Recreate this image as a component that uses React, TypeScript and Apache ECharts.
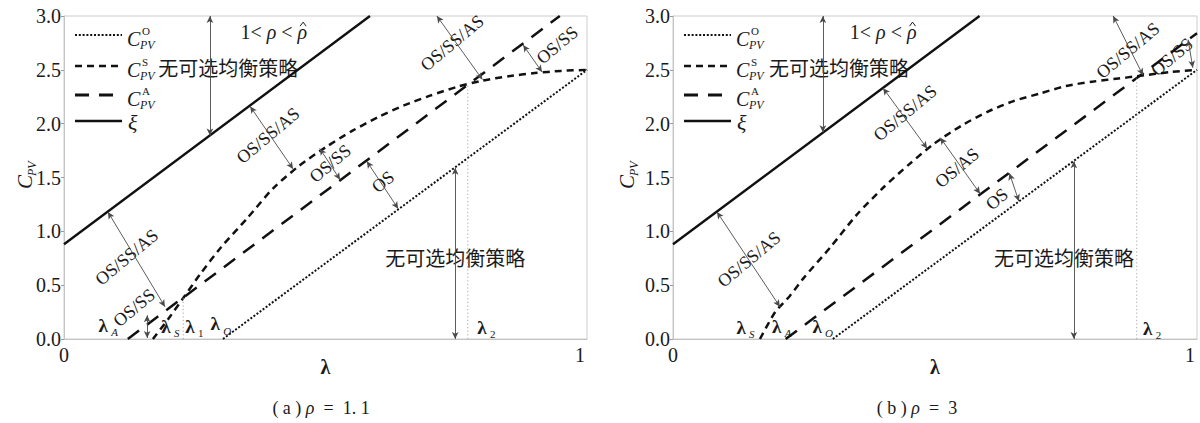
import React, { useEffect, useRef } from "react";
import * as echarts from "echarts";

type Pt = [number, number];

// ---------- panel (a): rho = 1.1 ----------
const xiLambda = [0, 0.585];
const xiValue = [0.88, 3.0];

const coLambdaA = [0.304, 1.0];
const coValueA = [0, 2.5];

const caLambdaA = [0.122, 0.948];
const caValueA = [0, 3.0];

const csLambdaA = [0.17, 0.2, 0.228, 0.26, 0.3, 0.35, 0.4, 0.45, 0.5, 0.55, 0.6, 0.65, 0.7, 0.75, 0.8, 0.85, 0.9, 0.95, 1.0];
const csValueA = [0, 0.19, 0.38, 0.6, 0.85, 1.12, 1.4, 1.61, 1.78, 1.93, 2.06, 2.17, 2.26, 2.34, 2.4, 2.44, 2.47, 2.49, 2.5];

// thresholds where the dotted guides drop to the axis (on the C^A line)
const guidesA = [0.228, 0.772];

// ---------- panel (b): rho = 3 ----------
const coLambdaB = [0.305, 1.0];
const coValueB = [0, 2.5];

const caLambdaB = [0.215, 1.0];
const caValueB = [0, 2.84];

const csLambdaB = [0.166, 0.195, 0.223, 0.25, 0.3, 0.35, 0.4, 0.45, 0.5, 0.55, 0.6, 0.65, 0.7, 0.75, 0.8, 0.85, 0.885, 0.95, 1.0];
const csValueB = [0, 0.25, 0.4, 0.57, 0.85, 1.15, 1.4, 1.62, 1.82, 1.98, 2.11, 2.21, 2.28, 2.35, 2.39, 2.42, 2.44, 2.48, 2.5];

const guidesB = [0.885];

// ---------- axis ticks ----------
const xTicks = [0, 1];
const yTickStep = 0.5;
const yMax = 3;
const xAxisTitle = "λ";

// ---------- annotations (data coordinates) ----------
const arrowsA: [Pt, Pt][] = [
  [[0.279, 3.0], [0.279, 1.89]],
  [[0.356, 2.16], [0.438, 1.58]],
  [[0.489, 1.77], [0.528, 1.48]],
  [[0.579, 1.65], [0.639, 1.21]],
  [[0.748, 1.59], [0.748, 0.0]],
  [[0.713, 3.0], [0.8, 2.41]],
  [[0.878, 2.73], [0.914, 2.48]],
  [[0.084, 1.18], [0.193, 0.3]],
  [[0.159, 0.22], [0.159, 0.01]],
];
const arrowsB: [Pt, Pt][] = [
  [[0.286, 3.0], [0.286, 1.92]],
  [[0.084, 1.18], [0.204, 0.3]],
  [[0.401, 2.33], [0.485, 1.77]],
  [[0.51, 1.87], [0.586, 1.35]],
  [[0.642, 1.54], [0.66, 1.28]],
  [[0.765, 1.65], [0.765, 0.0]],
  [[0.84, 3.0], [0.897, 2.45]],
  [[0.983, 2.78], [0.992, 2.52]],
];

const regionLabelsA: [string, number, number][] = [
  ["OS/SS/AS", 0.12, 0.76],
  ["OS/SS", 0.134, 0.29],
  ["OS/SS/AS", 0.39, 1.89],
  ["OS/SS", 0.509, 1.63],
  ["OS", 0.61, 1.46],
  ["OS/SS/AS", 0.742, 2.75],
  ["OS/SS", 0.943, 2.73],
];
const regionLabelsB: [string, number, number][] = [
  ["OS/SS/AS", 0.145, 0.74],
  ["OS/SS/AS", 0.443, 2.1],
  ["OS/AS", 0.542, 1.59],
  ["OS", 0.618, 1.3],
  ["OS/SS/AS", 0.868, 2.68],
  ["OS/SS", 0.952, 2.62],
];

const lambdaTagsA: [string, number, number, boolean][] = [
  ["A", 0.075, 0.13, true],
  ["S", 0.195, 0.12, true],
  ["1", 0.241, 0.12, false],
  ["O", 0.289, 0.14, true],
  ["2", 0.799, 0.11, false],
];
const lambdaTagsB: [string, number, number, boolean][] = [
  ["S", 0.13, 0.11, true],
  ["A", 0.198, 0.12, true],
  ["O", 0.275, 0.12, true],
  ["2", 0.906, 0.1, false],
];

const noEqText = "无可选均衡策略";
const noEqUpper: Pt[] = [[0.314, 2.52], [0.317, 2.52]];
const noEqLower: Pt[] = [[0.748, 0.76], [0.746, 0.76]];
const rhoRange: Pt = [0.419, 2.85];
const captions = [
  { tag: "a", rho: "1. 1" },
  { tag: "b", rho: "3" },
];

// ---------- styling ----------
const SERIF = "Liberation Serif";
const CJK = "Noto Sans CJK SC";
const INK = "#111";
const TXT = "#1a1a1a";
const ARROW = "#4a4a4a";
const DASH_O = [2, 1.8];
const DASH_S = [7, 5];
const DASH_A = [14, 10];

const GRIDS = [
  { left: 64, top: 16, width: 523, height: 323 },
  { left: 673, top: 16, width: 524, height: 323 },
];

const pairs = (xs: number[], ys: number[]): Pt[] => xs.map((x, i) => [x, ys[i]]);

function interp(xs: number[], ys: number[], x: number): number {
  for (let i = 0; i < xs.length - 1; i++) {
    if (x >= xs[i] && x <= xs[i + 1]) {
      const t = (x - xs[i]) / (xs[i + 1] - xs[i]);
      return ys[i] + t * (ys[i + 1] - ys[i]);
    }
  }
  return ys[ys.length - 1];
}

const panels = [
  {
    co: pairs(coLambdaA, coValueA),
    ca: pairs(caLambdaA, caValueA),
    cs: pairs(csLambdaA, csValueA),
    guides: guidesA.map((l) => [[l, 0], [l, interp(caLambdaA, caValueA, l)]] as Pt[]),
    arrows: arrowsA,
  },
  {
    co: pairs(coLambdaB, coValueB),
    ca: pairs(caLambdaB, caValueB),
    cs: pairs(csLambdaB, csValueB),
    guides: guidesB.map((l) => [[l, 0], [l, interp(caLambdaB, caValueB, l)]] as Pt[]),
    arrows: arrowsB,
  },
];

function baseOption(): any {
  const xi = pairs(xiLambda, xiValue);
  const series: any[] = [];
  panels.forEach((p, i) => {
    const common = { type: "line", xAxisIndex: i, yAxisIndex: i, showSymbol: false, symbol: "none", silent: true };
    series.push({ ...common, name: "CO" + i, data: p.co, lineStyle: { color: INK, width: 2, type: DASH_O } });
    series.push({ ...common, name: "CS" + i, data: p.cs, smooth: 0.25, lineStyle: { color: INK, width: 2.5, type: DASH_S } });
    series.push({ ...common, name: "CA" + i, data: p.ca, lineStyle: { color: INK, width: 2.5, type: DASH_A } });
    series.push({
      ...common,
      name: "XI" + i,
      data: xi,
      lineStyle: { color: INK, width: 2.4 },
      markLine: {
        silent: true,
        symbol: ["arrow", "arrow"],
        symbolSize: [5, 7],
        label: { show: false },
        lineStyle: { color: ARROW, width: 0.9, type: "solid" },
        emphasis: { disabled: true },
        data: p.arrows.map(([a, b]) => [{ coord: a }, { coord: b }]),
      },
    });
    p.guides.forEach((g, k) => {
      series.push({ ...common, name: `G${i}_${k}`, data: g, lineStyle: { color: "#a8a8a8", width: 1, type: [1.2, 2.4] } });
    });
  });

  return {
    animation: false,
    backgroundColor: "#ffffff",
    textStyle: { fontFamily: SERIF },
    grid: GRIDS.map((g) => ({ ...g, show: true, borderColor: "#cdcdcd", borderWidth: 1, backgroundColor: "transparent" })),
    xAxis: GRIDS.map((_, i) => ({
      type: "value",
      gridIndex: i,
      min: xTicks[0],
      max: xTicks[xTicks.length - 1],
      interval: 1,
      axisLine: { show: true, lineStyle: { color: "#c4c4c4", width: 1 } },
      axisTick: { show: false },
      splitLine: { show: false },
      axisLabel: {
        margin: 6,
        fontFamily: SERIF,
        fontSize: 20,
        color: TXT,
        formatter: (v: number) => (v === 1 ? "{r|1}" : String(v)),
        rich: { r: { padding: [0, 14, 0, 0], fontFamily: SERIF, fontSize: 20, color: TXT } },
      },
    })),
    yAxis: GRIDS.map((_, i) => ({
      type: "value",
      gridIndex: i,
      min: 0,
      max: yMax,
      interval: yTickStep,
      axisLine: { show: true, lineStyle: { color: "#c4c4c4", width: 1 } },
      axisTick: { show: true, length: 3, lineStyle: { color: "#9a9a9a" } },
      splitLine: { show: false },
      axisLabel: { margin: 3, fontFamily: SERIF, fontSize: 20, color: TXT, formatter: (v: number) => v.toFixed(1) },
    })),
    series,
  };
}

function txt(x: number, y: number, text: string, extra: any = {}, opts: any = {}): any {
  return {
    type: "text",
    silent: true,
    x,
    y,
    ...opts,
    style: { text, fontFamily: SERIF, fontSize: 19, fill: TXT, align: "center", verticalAlign: "middle", ...extra },
  };
}

function buildGraphics(chart: echarts.ECharts): any[] {
  const out: any[] = [];
  const px = (i: number, p: Pt) => chart.convertToPixel({ gridIndex: i } as any, p) as number[];

  const legendRows = [
    { dash: DASH_O, width: 2, sup: "O", dy: 19 },
    { dash: DASH_S, width: 2.5, sup: "S", dy: 50 },
    { dash: DASH_A, width: 2.8, sup: "A", dy: 79 },
    { dash: null, width: 2.4, sup: null, dy: 105 },
  ];

  GRIDS.forEach((g, i) => {
    // legend
    legendRows.forEach((r) => {
      const y = g.top + r.dy;
      out.push({
        type: "line",
        silent: true,
        shape: { x1: g.left + 11, y1: y, x2: g.left + 58, y2: y },
        style: { stroke: INK, lineWidth: r.width, lineDash: r.dash || undefined },
      });
      if (r.sup) {
        out.push(txt(g.left + 63, y + 4, "C", { fontStyle: "italic", fontSize: 20, align: "left" }));
        out.push(txt(g.left + 78, y - 4, r.sup, { fontSize: 11, align: "left" }));
        out.push(txt(g.left + 76, y + 10, "PV", { fontStyle: "italic", fontSize: 12, align: "left" }));
      } else {
        out.push(txt(g.left + 64, y + 1, "ξ", { fontStyle: "italic", fontSize: 22, align: "left" }));
      }
    });

    // y-axis title C_PV
    out.push({
      type: "group",
      silent: true,
      x: g.left - (i === 0 ? 39 : 46),
      y: g.top + 166,
      rotation: Math.PI / 2,
      children: [
        txt(0, 0, "C", { fontStyle: "italic", fontSize: 21 }),
        txt(6, 7, "PV", { fontStyle: "italic", fontSize: 12, align: "left" }),
      ],
    });

    // x-axis title
    out.push(txt(g.left + g.width / 2, 367, xAxisTitle, { fontWeight: "bold", fontSize: 20 }));

    // no-equilibrium region texts
    [noEqUpper[i], noEqLower[i]].forEach((p) => {
      const [x, y] = px(i, p);
      out.push(txt(x, y, noEqText, { fontFamily: CJK, fontSize: 20 }));
    });

    // 1 < rho < rho-hat (the hat is a small stroked caret)
    {
      const [x, y] = px(i, rhoRange);
      const split = x + 24;
      out.push({
        type: "text",
        silent: true,
        x: split,
        y,
        style: {
          text: "{n|1< }{i|ρ}{n| < }{i|ρ}",
          align: "right",
          verticalAlign: "middle",
          rich: {
            n: { fontFamily: SERIF, fontSize: 20, fill: TXT },
            i: { fontFamily: SERIF, fontSize: 20, fontStyle: "italic", fill: TXT },
          },
        },
      });
      out.push({
        type: "polyline",
        silent: true,
        shape: { points: [[split - 7, y - 6], [split - 4, y - 10], [split - 1, y - 6]] },
        style: { stroke: TXT, lineWidth: 1, fill: "none" },
      });
    }

    // rotated strategy-set labels
    const labels = i === 0 ? regionLabelsA : regionLabelsB;
    labels.forEach(([t, l, c]) => {
      const [x, y] = px(i, [l, c]);
      out.push(txt(x, y, t, { fontSize: 18 }, { rotation: (40 * Math.PI) / 180 }));
    });

    // lambda tags along the axis
    const tags = i === 0 ? lambdaTagsA : lambdaTagsB;
    tags.forEach(([sub, l, c, ital]) => {
      const [x, y] = px(i, [l, c]);
      out.push(txt(x, y, "λ", { fontWeight: "bold", fontSize: 19 }));
      out.push(txt(x + 8, y + 7, sub, { fontStyle: ital ? "italic" : "normal", fontSize: 11, align: "left" }));
    });

    // caption
    const cap = captions[i];
    out.push({
      type: "text",
      silent: true,
      x: i === 0 ? 321 : 917,
      y: 408,
      style: {
        text: `{n|( ${cap.tag} ) }{i|ρ}{n|  =  ${cap.rho}}`,
        align: "center",
        verticalAlign: "middle",
        rich: {
          n: { fontFamily: SERIF, fontSize: 18, fill: TXT },
          i: { fontFamily: SERIF, fontSize: 18, fontStyle: "italic", fill: TXT },
        },
      },
    });
  });
  return out;
}

export default function App() {
  const ref = useRef<HTMLDivElement>(null);
  useEffect(() => {
    const el = ref.current;
    if (!el) return;
    const chart = echarts.init(el, undefined, { renderer: "svg" });
    chart.setOption(baseOption());
    chart.setOption({ graphic: buildGraphics(chart) });
    return () => chart.dispose();
  }, []);
  return (
    <div
      ref={ref}
      style={{ position: "absolute", left: 0, top: 0, width: 1200, height: 423, background: "#fff" }}
    />
  );
}
